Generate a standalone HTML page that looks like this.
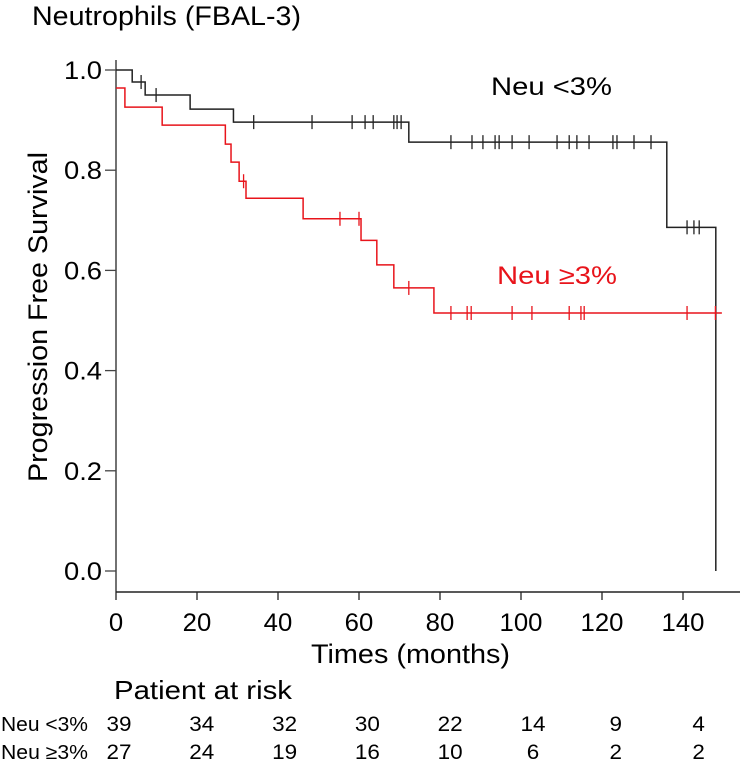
<!DOCTYPE html>
<html><head><meta charset="utf-8"><style>
body{margin:0;background:#fff;}
svg{display:block;font-family:"Liberation Sans",Arial,sans-serif;}
</style></head><body>
<svg id="c" width="744" height="768" viewBox="0 0 744 768">
<text x="32" y="25" font-size="27" textLength="269" lengthAdjust="spacingAndGlyphs">Neutrophils (FBAL-3)</text>
<g id="axes"></g><g id="curves"></g>
<text x="491" y="95" font-size="25" textLength="121" lengthAdjust="spacingAndGlyphs">Neu &lt;3%</text>
<text x="497" y="284" font-size="25" textLength="120" lengthAdjust="spacingAndGlyphs" fill="#e8141b">Neu ≥3%</text>
<text x="311" y="663" font-size="27" textLength="199" lengthAdjust="spacingAndGlyphs">Times (months)</text>
<text transform="translate(47,482) rotate(-90)" font-size="27" textLength="330" lengthAdjust="spacingAndGlyphs">Progression Free Survival</text>
<text x="114" y="699" font-size="26" textLength="178" lengthAdjust="spacingAndGlyphs">Patient at risk</text>
<g id="risk"></g>
</svg>
<script>
const xTicks=[0,20,40,60,80,100,120,140];
const yTicks=[0.0,0.2,0.4,0.6,0.8,1.0];
const lowTimes=[0,4,7.2,18.3,29,72.3,136,148.1];
const lowSurv=[1.0,0.976,0.95,0.922,0.896,0.856,0.686,0.0];
const lowCens=[6.2,9.9,34,48.4,58.3,61.5,63.5,68.6,69.4,70.4,82.7,87.9,90.6,93.6,94.6,97.8,102,108.9,111.9,113.8,116.8,122.7,123.7,127.9,132.1,141,142.7,144];
const highTimes=[0,2.2,11.4,27,28.4,30.4,32.1,46.2,60.5,64.4,68.6,78.5];
const highSurv=[0.964,0.926,0.89,0.852,0.816,0.778,0.744,0.703,0.66,0.611,0.565,0.515];
const highEnd=149.6;
const highCens=[31.5,55.3,60,72.3,82.7,86.7,87.7,97.8,102.7,111.9,114.8,115.6,141,148];
const riskLow=[39,34,32,30,22,14,9,4];
const riskHigh=[27,24,19,16,10,6,2,2];
const X=t=>116+4.05*t, Y=v=>571-501*v;
const NS="http://www.w3.org/2000/svg";
function mk(tag,attrs,parent,txt){const e=document.createElementNS(NS,tag);for(const k in attrs)e.setAttribute(k,attrs[k]);if(txt!==undefined)e.textContent=txt;parent.appendChild(e);return e;}
const ax=document.getElementById('axes');
let e=mk('line',{x1:116,y1:60,x2:116,y2:592,stroke:'#444','stroke-width':1.5},ax);


e=mk('line',{x1:116,y1:592,x2:740,y2:592,stroke:'#222','stroke-width':1.5},ax);


xTicks.forEach(t=>{
 mk('line',{x1:X(t),y1:592,x2:X(t),y2:600,stroke:'#222','stroke-width':1.3},ax);
 const s=String(t);
 const l=mk('text',{x:X(t),y:631,'font-size':25,'text-anchor':'middle',textLength:s.length*14.3,lengthAdjust:'spacingAndGlyphs'},ax,s);
 
 
});
yTicks.forEach(v=>{
 mk('line',{x1:105,y1:Y(v),x2:116,y2:Y(v),stroke:'#444','stroke-width':1.3},ax);
 const l=mk('text',{x:102,y:Y(v)+9,'font-size':25,'text-anchor':'end',textLength:38,lengthAdjust:'spacingAndGlyphs'},ax,v.toFixed(1));
 
 
});
const cv=document.getElementById('curves');
function step(times,surv,end){let d='M'+X(times[0])+','+Y(surv[0]);for(let i=1;i<times.length;i++){d+='H'+X(times[i])+'V'+Y(surv[i]);}if(end!==undefined)d+='H'+X(end);return d;}
function survAt(times,surv,t){let s=surv[0];for(let i=0;i<times.length;i++)if(times[i]<=t)s=surv[i];return s;}
let p=mk('path',{d:step(lowTimes,lowSurv),fill:'none',stroke:'#222','stroke-width':1.5},cv);


lowCens.forEach(t=>{const c=mk('line',{x1:X(t),x2:X(t),y1:Y(survAt(lowTimes,lowSurv,t))-7,y2:Y(survAt(lowTimes,lowSurv,t))+7,stroke:'#222','stroke-width':1.3},cv);

});
p=mk('path',{d:step(highTimes,highSurv,highEnd),fill:'none',stroke:'#e8141b','stroke-width':1.5},cv);


highCens.forEach(t=>{const y=Y(survAt(highTimes,highSurv,t));const c=mk('line',{x1:X(t),x2:X(t),y1:y-7,y2:y+7,stroke:'#e8141b','stroke-width':1.3},cv);

});
const rk=document.getElementById('risk');
[['Neu <3%',riskLow,731],['Neu ≥3%',riskHigh,759]].forEach(([lab,arr,y])=>{
 const l=mk('text',{x:1,y:y,'font-size':20,textLength:87,lengthAdjust:'spacingAndGlyphs'},rk,lab);
 
 
 arr.forEach((n,i)=>{const s=String(n);const t=mk('text',{x:119+4.14*xTicks[i],y:y,'font-size':21,'text-anchor':'middle',textLength:s.length*12.5,lengthAdjust:'spacingAndGlyphs'},rk,s);
 
 });
});
</script>
</body></html>
